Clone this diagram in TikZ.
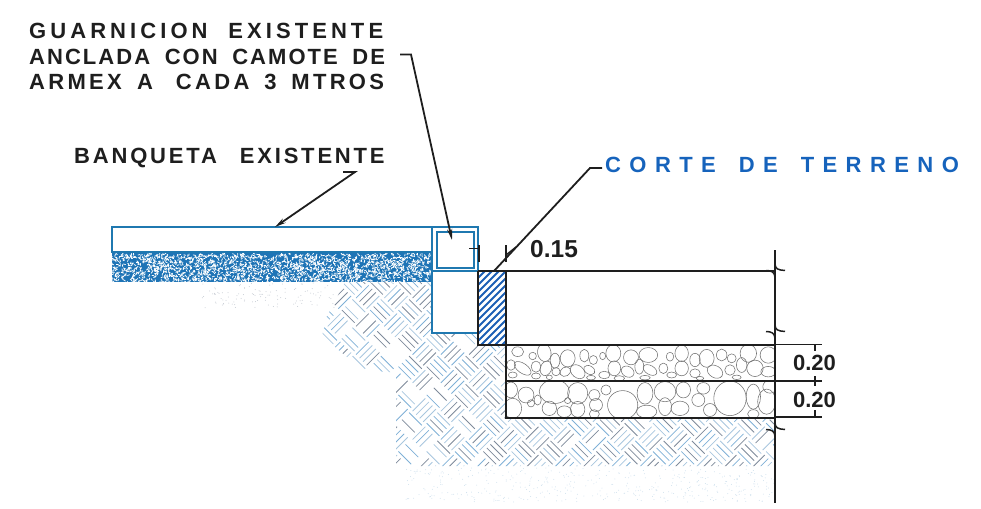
\documentclass[tikz,border=0pt]{standalone}
\usepackage{fontspec}
\setmainfont{Liberation Sans}
\usetikzlibrary{arrows.meta}
\definecolor{curbblue}{HTML}{1F78B0}
\definecolor{bandblue}{HTML}{1E74B6}
\definecolor{cutblue}{HTML}{1663BC}
\definecolor{hatchblue}{HTML}{1C5FB5}
\definecolor{inkk}{HTML}{1E1E1E}
\definecolor{soila}{HTML}{7FB0D6}
\definecolor{soilb}{HTML}{7E8A9A}
\definecolor{soilc}{HTML}{A8C6DE}
\tikzset{
  lbl/.style={anchor=base west,inner sep=0pt,text=inkk,font=\bfseries\fontsize{22}{22}\selectfont},
  num/.style={anchor=base,inner sep=0pt,text=inkk,font=\bfseries\fontsize{22}{22}\selectfont},
  leader/.style={draw=inkk,line width=1.8pt},
  arrowed/.style={leader,-{Stealth[length=11pt,width=5pt]}},
  bluebox/.style={draw=curbblue,line width=2pt},
  thin blue/.style={draw=curbblue,line width=1.3pt},
  heavy/.style={draw=inkk,line width=2.2pt},
  dimline/.style={draw=inkk,line width=1.1pt},
  pebble/.style={draw=black!55,line width=0.55pt}
}
\begin{document}
\begin{tikzpicture}[x=1pt,y=-1pt]
\useasboundingbox (0,0) rectangle (981,508);
\pgfmathsetseed{4711}
% --- faint specks
\foreach \n in {1,...,420}{
  \pgfmathsetmacro\px{405+370*rnd}\pgfmathsetmacro\py{468+34*rnd}
  \fill[soilc!55] (\px,\py) circle (0.5);
}
\foreach \n in {1,...,110}{
  \pgfmathsetmacro\px{200+135*rnd}\pgfmathsetmacro\py{283+25*rnd}
  \fill[soilb!45] (\px,\py) circle (0.5);
}
% --- basket-weave soil
\begin{scope}
  \clip (345,282) -- (432,282) -- (432,333) -- (478,333) -- (478,346) -- (506,346) -- (506,418)
        -- (775,418) -- (775,466) -- (396,466) -- (396,372) -- (385,372) -- (360,368)
        -- (322,336) -- (326,318) -- cycle;
  \begin{scope}[rotate=45]
    \foreach \i in {0,...,24}{
      \foreach \j in {0,...,24}{
        \pgfmathtruncatemacro\parity{mod(\i+\j,2)}
        \pgfmathsetmacro\ox{20*\i-120}
        \pgfmathsetmacro\oy{20*\j+420}
        \pgfmathsetmacro\lim{\ox<40 ? 0.22 : 0.04}
        \foreach \k in {2.5,7.5,12.5,17.5}{
          \pgfmathsetmacro\skp{rnd}
          \pgfmathtruncatemacro\cc{3*rnd}
          \ifnum\cc=0 \def\cl{soila}\else\ifnum\cc=1 \def\cl{soilb}\else\def\cl{soilc}\fi\fi
          \ifdim\skp pt>\lim pt
          \ifnum\parity=0
            \draw[\cl,line width=0.8pt] ({\ox+1},{\oy+\k}) -- ({\ox+19},{\oy+\k});
          \else
            \draw[\cl,line width=0.8pt] ({\ox+\k},{\oy+1}) -- ({\ox+\k},{\oy+19});
          \fi
          \fi
        }
      }
    }
  \end{scope}
\end{scope}
% --- blue speckled band
\fill[bandblue] (112,252) rectangle (432,282);
\begin{scope}
  \clip (112,252) rectangle (432,282);
  \foreach \n in {1,...,2000}{
    \pgfmathsetmacro\px{112+320*rnd}\pgfmathsetmacro\py{254+28*rnd}
    \pgfmathsetmacro\ang{360*rnd}
    \draw[white,line width=0.75pt,line cap=round] (\px,\py) -- ++(\ang:2);
  }
\end{scope}
% --- gravel: values read in thirds of a pixel from an origin
\begin{scope}
  \clip (506,345) rectangle (775,381);
  \begin{scope}[shift={(506,340)},x=0.3333pt,y=-0.3333pt]
  \foreach \a/\b/\c/\d/\e in {35/35/16/13/0,80/48/10/10/0,115/38/18/24/10,147/62/13/20/0,185/55/20/23/0,235/47/12/17/0,262/60/11/12/0,290/48/8/10/0,322/40/20/23/0,375/52/20/20/0,
    15/75/12/14/0,50/85/26/13/-35,90/80/13/15/0,120/85/15/20/-20,150/95/11/11/0,178/95/15/12/30,215/95/22/16/-40,250/90/16/11/-30,295/105/15/10/0,325/85/17/20/0,365/95/18/14/-30,400/80/12/20/0,
    20/105/12/8/0,90/108/12/8/0,130/112/8/6/0,255/113/12/6/0,340/115/14/7/0}{
    \draw[pebble,rotate around={\e:(\a,\b)}] (\a,\b) ellipse ({1.12*\c} and {1.12*\d});
  }
  \end{scope}
  \begin{scope}[shift={(640,340)},x=0.3333pt,y=-0.3333pt]
  \foreach \a/\b/\c/\d/\e in {25/45/25/20/0,90/50/10/12/0,125/40/18/22/0,165/60/14/18/0,200/55/20/24/0,245/45/14/16/0,275/55/12/12/0,325/40/22/24/0,385/45/22/22/0,
    30/90/20/12/-30,70/85/12/14/0,125/85/18/20/0,165/100/14/12/0,225/95/22/16/-30,270/90/14/14/0,305/75/14/20/0,345/85/22/22/0,385/95/20/14/0,
    15/113/14/6/0,95/105/13/8/0,180/115/10/5/0,290/112/12/6/0}{
    \draw[pebble,rotate around={\e:(\a,\b)}] (\a,\b) ellipse ({1.12*\c} and {1.12*\d});
  }
  \end{scope}
\end{scope}
\begin{scope}
  \clip (506,381) rectangle (775,418);
  \begin{scope}[shift={(506,340)},x=0.3333pt,y=-0.3333pt]
  \foreach \a/\b/\c/\d in {60/165/22/22,145/155/42/33,215/160/28/30,265/165/16/15,270/195/18/18,300/150/14/14,350/195/42/40,15/150/18/22,20/205/25/28,75/190/10/10,95/180/10/14,130/205/20/20,175/215/20/16,215/208/20/22,265/222/14/12,185/182/9/8}{
    \draw[pebble] (\a,\b) ellipse ({1.08*\c} and {1.08*\d});
  }
  \end{scope}
  \begin{scope}[shift={(640,340)},x=0.3333pt,y=-0.3333pt]
  \foreach \a/\b/\c/\d in {15/160/22/30,75/155/30/28,130/150/20/22,190/145/18/16,175/180/18/18,120/205/25/20,75/200/18/25,20/215/28/18,210/210/18/18,270/175/45/48,340/170/20/35,380/185/25/35,340/222/16/12,390/140/20/18}{
    \draw[pebble] (\a,\b) ellipse ({1.08*\c} and {1.08*\d});
  }
  \end{scope}
\end{scope}
% --- hatch of the cut
\begin{scope}
  \clip (478,271) rectangle (506,345);
  \foreach \s in {0,7,...,112}{
    \draw[hatchblue,line width=2pt] (470,{272+\s}) -- (520,{222+\s});
  }
\end{scope}
% --- sidewalk and curb
\draw[bluebox] (112,227) rectangle (432,252);
\draw[bluebox] (432,227) rectangle (478,333);
\draw[bluebox] (432,271) -- (478,271);
\draw[thin blue] (437,232) rectangle (474,268);
% --- cut box, layers
\coordinate (cutTL) at (478,271);
\coordinate (cutBL) at (478,345);
\coordinate (cutTR) at (506,271);
\coordinate (cutBR) at (506,418);
\coordinate (railTop) at (775,250);
\coordinate (railBot) at (775,503);
\draw[heavy] (cutTL) -- (cutBL) -- (775,345);
\draw[heavy] (cutTL) -- (775,271);
\draw[heavy] (cutTR) -- (cutBR) -- (775,418);
\draw[heavy] (506,381) -- (775,381);
% --- break rail
\draw[leader] (railTop) -- (railBot);
\foreach \yy in {270.5,331.5,429.5}{
  \draw[leader,line width=1.5pt] (775,{\yy-7}) .. controls (775,{\yy-1.5}) and (778,{\yy-0.5}) .. (785,\yy);
  \draw[leader,line width=1.5pt] (766,\yy) .. controls (771,\yy) and (775,{\yy+1.5}) .. (775,{\yy+7});
}
% --- dimensions 0.20
\draw[dimline] (775,344.5) -- (822,344.5);
\draw[dimline] (775,381) -- (822,381);
\draw[dimline] (775,417) -- (822,417);
\draw[dimline] (815,344.5) -- (815,351);
\draw[dimline] (815,376) -- (815,386);
\draw[dimline] (815,410) -- (815,417);
\node[num] (dimU) at (814.5,370) {0.20};
\node[num] (dimL) at (814.5,407) {0.20};
% --- dimension 0.15
\draw[dimline,line width=1.4pt] (479,245) -- (479,262);
\draw[dimline,line width=1.4pt] (469,248.5) -- (479,248.5);
\draw[dimline,line width=1.4pt] (506,245) -- (506,262);
\draw[dimline,line width=1.4pt] (506,255) -- (516,247);
\node[num,font=\bfseries\fontsize{24.5}{24.5}\selectfont,anchor=base west] (dimTop) at (530,257) {0.15};
% --- labels
\node[lbl] (guar1) at (29,39) {\addfontfeature{LetterSpace=18.5}GUARNICION \hspace{10.6pt}EXISTENTE};
\node[lbl] (guar2) at (29,65) {\addfontfeature{LetterSpace=9.3}ANCLADA \hspace{6.4pt}CON \hspace{6.4pt}CAMOTE \hspace{6.4pt}DE};
\node[lbl] (guar3) at (29,90) {\addfontfeature{LetterSpace=15}ARMEX \hspace{6pt}A\ \ \hspace{4pt}CADA \hspace{5.5pt}3 \hspace{5.5pt}MTROS};
\node[lbl] (banq) at (74,163) {\addfontfeature{LetterSpace=12.8}BANQUETA \hspace{14pt}EXISTENTE};
\node[lbl,text=cutblue] (corte) at (605,172) {\addfontfeature{LetterSpace=38.3}CORTE \hspace{8.4pt}DE \hspace{8.4pt}TERRENO};
% --- leaders
\coordinate (g1) at (400,54.5);
\coordinate (g2) at (411,54.5);
\coordinate (gEnd) at (452,240);
\coordinate (b1) at (343,172);
\coordinate (b2) at (355,172);
\coordinate (bEnd) at (275,227);
\coordinate (c1) at (602,168);
\coordinate (c2) at (590,168);
\coordinate (cEnd) at (494,271);
\draw[arrowed] (g1) -- (g2) -- (gEnd);
\draw[arrowed] (b1) -- (b2) -- (bEnd);
\draw[leader] (c1) -- (c2) -- (cEnd);
\end{tikzpicture}
\end{document}
